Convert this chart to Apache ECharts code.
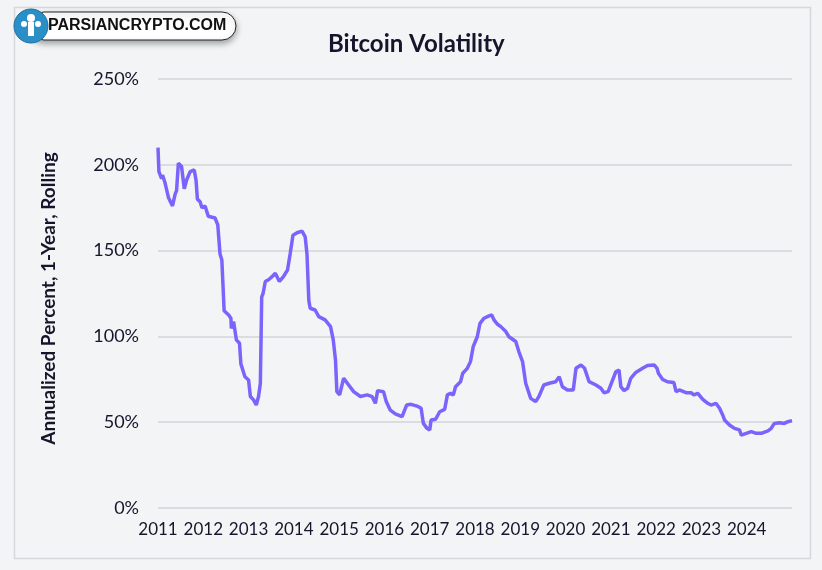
<!DOCTYPE html>
<html>
<head>
<meta charset="utf-8">
<script src="https://cdn.jsdelivr.net/npm/echarts@6/dist/echarts.min.js"></script>
<style>
html,body{margin:0;padding:0;background:#f3f4f6;}
#chart{width:822px;height:570px;}
</style>
</head>
<body>
<div id="chart"></div>
<script>
// Decimal year of each reading
var dates = [
2011.00,2011.02,2011.08,2011.10,2011.15,2011.23,2011.32,2011.38,2011.41,2011.45,
2011.52,2011.58,2011.63,2011.71,2011.80,2011.84,2011.87,2011.93,2011.97,2012.04,
2012.11,2012.26,2012.32,2012.37,2012.41,2012.46,2012.56,2012.61,2012.62,2012.67,
2012.73,2012.80,2012.83,2012.92,2013.00,2013.04,2013.11,2013.17,2013.22,2013.26,
2013.29,2013.32,2013.37,2013.44,2013.52,2013.59,2013.63,2013.68,2013.77,2013.86,
2013.92,2013.98,2014.07,2014.18,2014.25,2014.29,2014.33,2014.36,2014.47,2014.55,
2014.69,2014.81,2014.87,2014.92,2014.95,2015.01,2015.10,2015.21,2015.32,2015.47,
2015.62,2015.73,2015.80,2015.85,2015.98,2016.04,2016.13,2016.24,2016.39,2016.49,
2016.59,2016.72,2016.81,2016.86,2016.94,2017.00,2017.03,2017.13,2017.22,2017.33,
2017.39,2017.46,2017.52,2017.57,2017.68,2017.73,2017.83,2017.90,2017.96,2018.05,
2018.11,2018.20,2018.31,2018.37,2018.42,2018.49,2018.57,2018.68,2018.75,2018.90,
2018.97,2019.05,2019.12,2019.23,2019.34,2019.41,2019.52,2019.64,2019.78,2019.86,
2019.93,2020.04,2020.17,2020.23,2020.34,2020.42,2020.52,2020.67,2020.78,2020.85,
2020.94,2021.04,2021.11,2021.18,2021.22,2021.29,2021.37,2021.44,2021.55,2021.70,
2021.81,2021.96,2022.02,2022.05,2022.14,2022.25,2022.39,2022.44,2022.51,2022.66,
2022.77,2022.83,2022.92,2023.03,2023.14,2023.21,2023.32,2023.40,2023.47,2023.51,
2023.62,2023.73,2023.84,2023.88,2023.99,2024.10,2024.21,2024.32,2024.47,2024.54,
2024.61,2024.72,2024.83,2024.91,2025.00
];
// Annualized 1-year rolling volatility, percent
var volatility = [
210,196,192,194,190,181,176,183,185,201,
199,186,191,196,197,191,180,178.5,175,176,
170,169,165,148,144.5,115,112.5,110.6,104.7,108.6,
98,96,84,76.5,74.6,65,63,60,65,72.7,
123,125,132,133,134.8,136.8,135.8,132,134.8,138.7,
148.4,159,160.4,161.4,158,148,121,116.4,115.4,111.5,
109.6,105.7,98,86,67.8,66,75.6,71.7,67.8,65,
65.9,64.9,61,68.4,67.8,62,57,54.8,53.2,60,
60.4,59.4,58.1,49.3,46.4,45.4,51.3,51.7,56.1,57.5,
65.9,66.8,65.9,70.7,73.6,78.5,81.4,85.3,94,99.8,
107.6,110.6,112,112.5,109.6,107.2,105.7,102.8,99.8,97,
91,85.3,72.7,63.9,62,64.9,71.7,72.7,73.6,76.5,
70.7,68.8,68.8,81.4,83.3,81.4,73.6,71.7,69.8,67.2,
67.8,74.6,79.4,80.4,70.7,68.4,69.8,75.6,79,81.4,
83,83.3,81.4,78.5,75,73.6,73.2,67.8,68.8,67.2,
67.2,65.9,66.8,63.3,61,60,61,58.1,54.2,51.3,
48.4,46.4,45.5,42.5,43.5,44.5,43.5,43.5,45,46.4,
49.3,49.7,49.3,50.3,50.9
];
var yearLabels = [2011,2012,2013,2014,2015,2016,2017,2018,2019,2020,2021,2022,2023,2024];
var yTicks = [0,50,100,150,200,250];
var titleText = 'Bitcoin Volatility';
var yAxisName = 'Annualized Percent, 1-Year, Rolling';
var watermark = 'PARSIANCRYPTO.COM';

var seriesData = dates.map(function (d, i) { return [d, volatility[i]]; });
var textColor = '#17142b';
var font = 'Lato, "Open Sans", sans-serif';

var chart = echarts.init(document.getElementById('chart'), null, {renderer: 'canvas'});
chart.setOption({
  backgroundColor: '#f3f4f6',
  animation: false,
  title: {
    text: titleText,
    left: 323,
    top: 27,
    textStyle: {fontFamily: font, fontWeight: 'bold', fontSize: 24, color: textColor}
  },
  graphic: [
    {type: 'rect', shape: {x: 14.5, y: 7.5, width: 796, height: 551}, style: {fill: 'none', stroke: '#d6d7db', lineWidth: 1.5}, z: -1},
    {type: 'rect', shape: {x: 30, y: 12, width: 206, height: 28, r: 14},
     style: {fill: '#ffffff', stroke: '#222', lineWidth: 1, shadowBlur: 6, shadowOffsetY: 3, shadowColor: 'rgba(0,0,0,0.35)'}, z: 10},
    {type: 'text', style: {x: 48, y: 26, text: watermark, fill: '#111', font: 'bold 16px "Liberation Sans", Arial, sans-serif', verticalAlign: 'middle'}, z: 11},
    {type: 'circle', shape: {cx: 31, cy: 26, r: 17}, style: {fill: '#2b8fc7', stroke: '#1f6f9e', lineWidth: 1}, z: 12},
    {type: 'circle', shape: {cx: 31, cy: 18, r: 4}, style: {fill: '#fff'}, z: 13},
    {type: 'circle', shape: {cx: 24, cy: 24, r: 3}, style: {fill: '#fff'}, z: 13},
    {type: 'circle', shape: {cx: 38, cy: 24, r: 3}, style: {fill: '#fff'}, z: 13},
    {type: 'rect', shape: {x: 28, y: 22, width: 6, height: 14}, style: {fill: '#fff'}, z: 13}
  ],
  grid: {left: 158, right: 30, top: 79, bottom: 62, containLabel: false},
  xAxis: {
    type: 'value',
    min: 2011,
    max: 2025,
    interval: 1,
    axisLine: {show: false},
    axisTick: {show: false},
    splitLine: {show: false},
    axisLabel: {
      margin: 13,
      fontFamily: font, fontSize: 17, color: textColor,
      formatter: function (v) { return yearLabels.indexOf(v) >= 0 ? String(v) : ''; }
    }
  },
  yAxis: {
    type: 'value',
    min: yTicks[0],
    max: yTicks[yTicks.length - 1],
    interval: 50,
    name: yAxisName,
    nameLocation: 'middle',
    nameGap: 100,
    nameTextStyle: {fontFamily: font, fontWeight: 'bold', fontSize: 19, color: textColor, padding: [0, 10, 0, 0]},
    axisLine: {show: false},
    axisTick: {show: false},
    splitLine: {lineStyle: {color: '#d4d4d8', width: 1.5}},
    axisLabel: {margin: 19, fontFamily: font, fontSize: 18, color: textColor, formatter: '{value}%'}
  },
  series: [{
    type: 'line',
    data: seriesData,
    showSymbol: false,
    lineStyle: {color: '#7b63fb', width: 3.5},
    itemStyle: {color: '#7b63fb'}
  }]
});
</script>
</body>
</html>
